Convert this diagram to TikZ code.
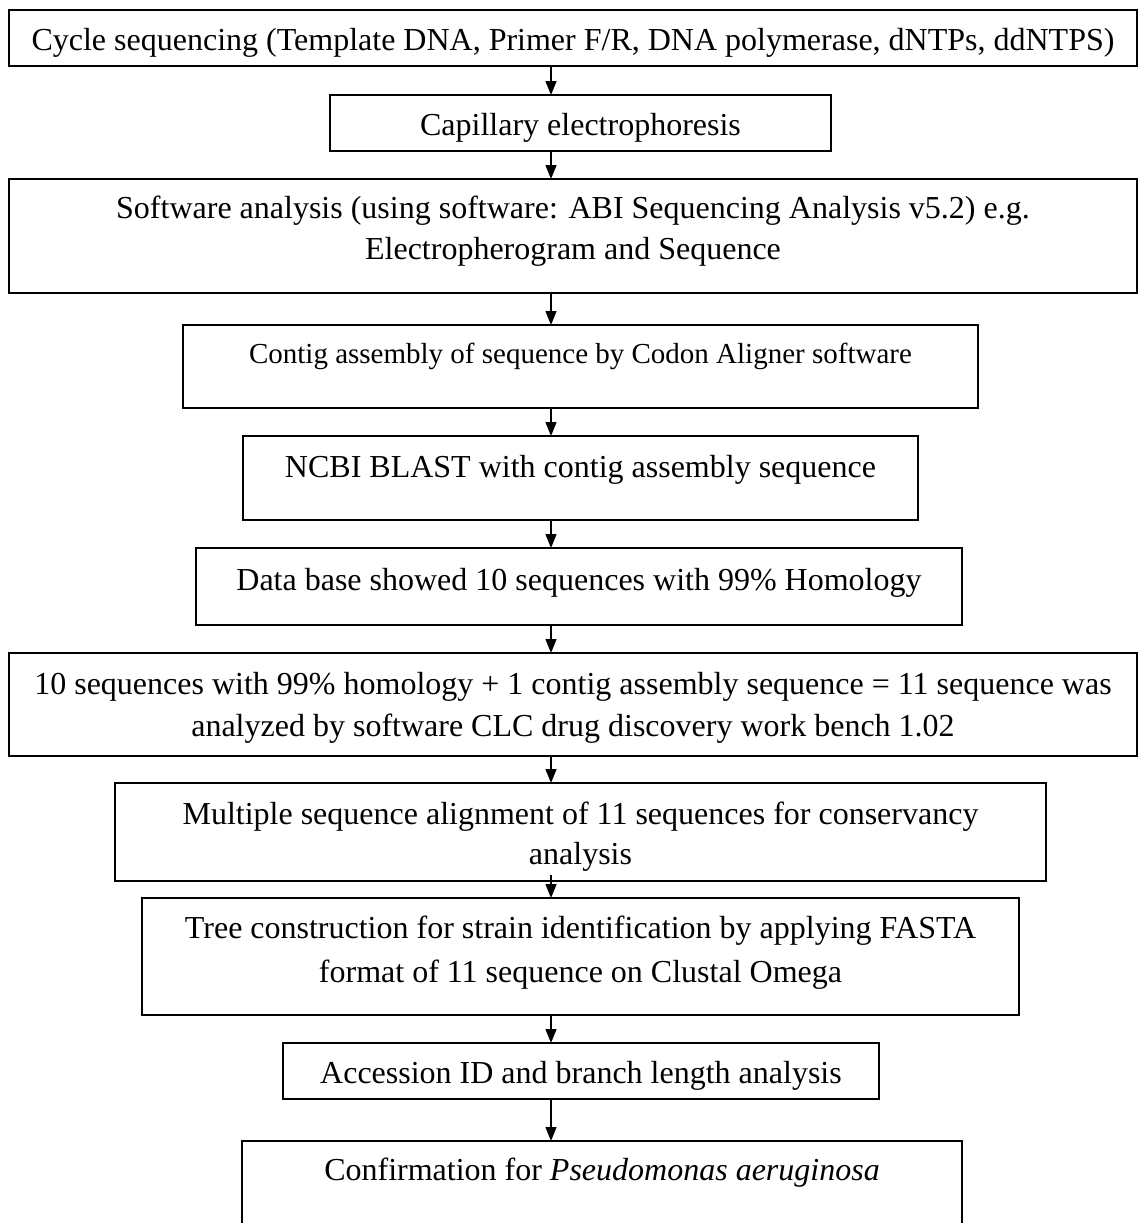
\documentclass[tikz,border=0pt]{standalone}
\usepackage{fontspec}
\setmainfont{Liberation Serif}
\usetikzlibrary{arrows.meta}
\newcommand{\boxtext}[6]{% width, height, first-baseline, fontsize, leading, text
  \parbox[c][#2bp][t]{#1bp}{\fontsize{#4bp}{#5bp}\selectfont\centering\rule{0pt}{#3bp}#6\par}}
\tikzset{
  stepbox/.style={draw, line width=1.8bp, inner sep=0pt, outer sep=0pt, anchor=north west},
  openbox/.style={draw=none, inner sep=0pt, outer sep=0pt, anchor=north west},
  arr/.style={line width=1.3bp, -{Triangle[length=14bp,width=11bp]}},
}
\begin{document}
\begin{tikzpicture}[x=1bp,y=-1bp]
\useasboundingbox (0,0) rectangle (1141,1223);
\coordinate (ax) at (551,0);

\node[stepbox] (b1) at (9,10)
  {\boxtext{1128}{56}{40}{32}{41}{Cycle sequencing (Template DNA, Primer F/R, DNA polymerase, dNTPs, ddNTPS)}};
\node[stepbox] (b2) at (330,95)
  {\boxtext{501}{56}{40}{32}{41}{Capillary electrophoresis}};
\node[stepbox] (b3) at (9,179)
  {\boxtext{1128}{114}{39}{32}{41}{Software analysis (using software: ABI Sequencing Analysis v5.2) e.g.\\ Electropherogram and Sequence}};
\node[stepbox] (b4) at (183,325)
  {\boxtext{795}{83}{38}{29}{38}{Contig assembly of sequence by Codon Aligner software}};
\node[stepbox] (b5) at (243,436)
  {\boxtext{675}{84}{41}{32}{41}{NCBI BLAST with contig assembly sequence}};
\node[stepbox] (b6) at (196,548)
  {\boxtext{766}{77}{42}{32}{41}{Data base showed 10 sequences with 99\% Homology}};
\node[stepbox] (b7) at (9,653)
  {\boxtext{1128}{103}{41}{32}{42}{10 sequences with 99\% homology + 1 contig assembly sequence = 11 sequence was\\ analyzed by software CLC drug discovery work bench 1.02}};
\node[stepbox] (b8) at (115,783)
  {\boxtext{931}{98}{41}{32}{40}{Multiple sequence alignment of 11 sequences for conservancy\\ analysis}};
\node[stepbox] (b9) at (142,898)
  {\boxtext{877}{117}{40}{32}{44}{Tree construction for strain identification by applying FASTA\\ format of 11 sequence on Clustal Omega}};
\node[stepbox] (b10) at (283,1043)
  {\boxtext{596}{56}{40}{32}{41}{Accession ID and branch length analysis}};
\node[openbox] (b11) at (242,1141)
  {\boxtext{720}{82}{39}{32}{41}{Confirmation for \textit{Pseudomonas aeruginosa}}};
\draw[line width=1.8bp] (b11.south west) |- (b11.north east) -- (b11.south east);

\draw[arr] (b1.south -| ax) -- (b2.north -| ax);
\draw[arr] (b2.south -| ax) -- (b3.north -| ax);
\draw[arr] (b3.south -| ax) -- (b4.north -| ax);
\draw[arr] (b4.south -| ax) -- (b5.north -| ax);
\draw[arr] (b5.south -| ax) -- (b6.north -| ax);
\draw[arr] (b6.south -| ax) -- (b7.north -| ax);
\draw[arr] (b7.south -| ax) -- (b8.north -| ax);
\draw[arr] ([yshift=6bp]b8.south -| ax) -- (b9.north -| ax);
\draw[arr] (b9.south -| ax) -- (b10.north -| ax);
\draw[arr] (b10.south -| ax) -- (b11.north -| ax);
\end{tikzpicture}
\end{document}
